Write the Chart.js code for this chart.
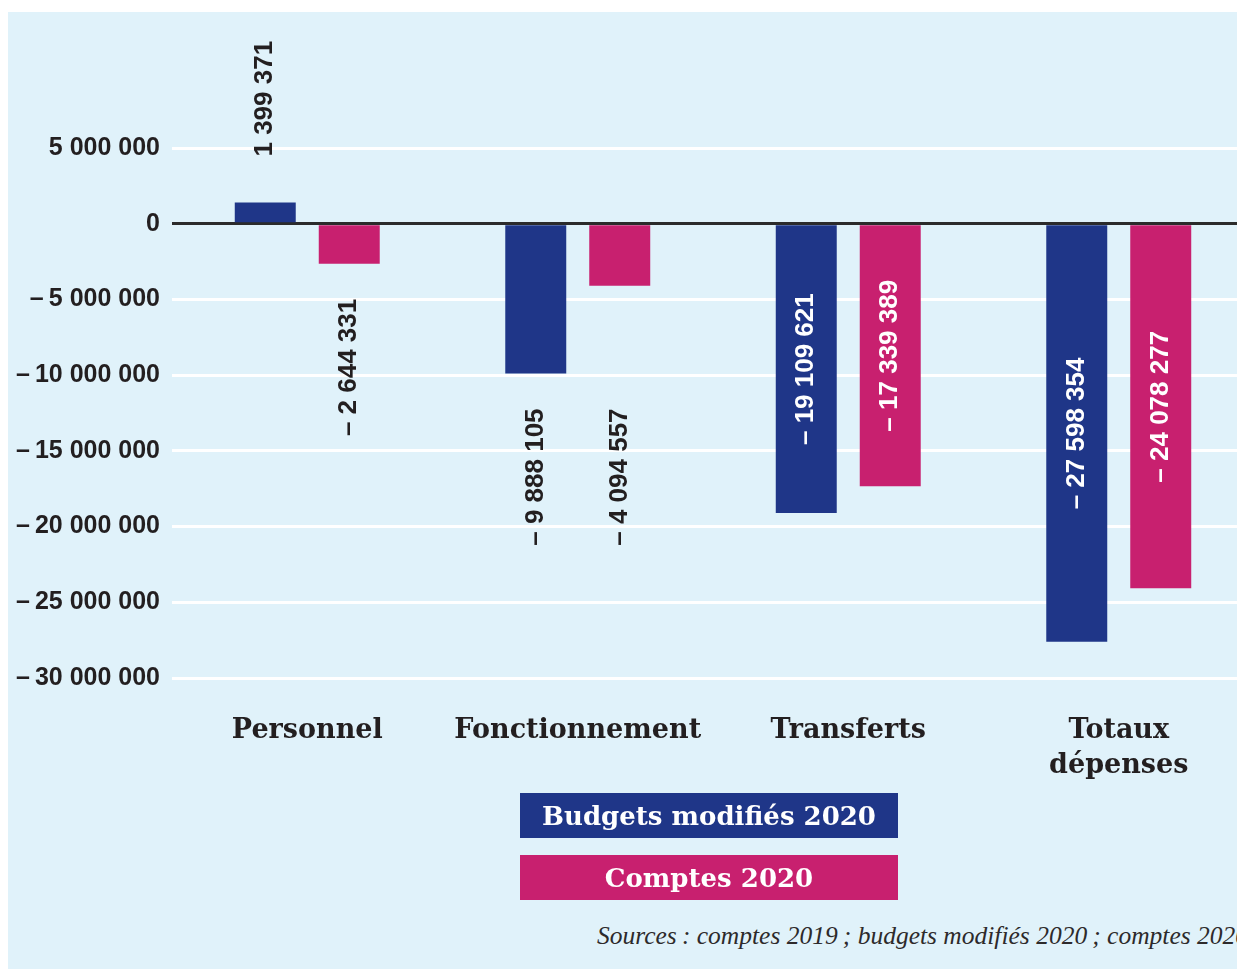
<!DOCTYPE html>
<html>
<head>
<meta charset="utf-8">
<script src="https://cdn.jsdelivr.net/npm/chart.js@4/dist/chart.umd.min.js"></script>
<style>
    html, body { margin: 0; padding: 0; background: #fff; width: 1237px; height: 969px; overflow: hidden; }
    #panel { position: absolute; left: 8px; top: 12px; right: 0; bottom: 0; background: #e0f2fa; overflow: hidden; }
    #chart { position: absolute; left: 0; top: 0; }
    #legend { position: absolute; left: 512px; top: 781px; }
    .key { box-sizing: border-box; width: 378px; height: 45px; line-height: 45px; padding-top: 8px; margin-bottom: 17px;
           color: #fff; text-align: center; font: bold 26px "DejaVu Serif"; }
    #source { position: absolute; left: 589px; top: 911px; white-space: nowrap; color: #2d2a2b;
              font: italic 25.5px "Liberation Serif"; line-height: 25px; }
</style>
</head>
<body>
<div id="panel">
    <canvas id="chart" width="1246" height="830"></canvas>
    <div id="legend"></div>
    <div id="source">Sources&#8201;: comptes 2019&#8201;; budgets modifiés 2020&#8201;; comptes 2020</div>
</div>
<script>
const categories = ['Personnel', 'Fonctionnement', 'Transferts', ['Totaux', 'dépenses']];
const budgetsModifies2020 = [1399371, -9888105, -19109621, -27598354];
const comptes2020 = [-2644331, -4094557, -17339389, -24078277];
const seriesNames = ['Budgets modifiés 2020', 'Comptes 2020'];
const seriesColors = ['#1f3688', '#c8206f'];
const yMin = -30000000, yMax = 5000000, yStep = 5000000;

const ink = '#231f20';

function spaced(n) {
    return Math.abs(n).toString().replace(/\B(?=(\d{3})+(?!\d))/g, ' ');
}

// value written along each bar, inside when it fits, else past the group's end
const valueLabels = {
    id: 'valueLabels',
    afterDatasetsDraw(chart) {
        const ctx = chart.ctx;
        const metas = chart.data.datasets.map((d, i) => chart.getDatasetMeta(i));
        ctx.save();
        ctx.font = 'bold 26px "Liberation Sans"';
        ctx.textBaseline = 'middle';
        chart.data.labels.forEach((lab, j) => {
            const bars = metas.map(m => m.data[j]);
            const lowest = Math.max(...bars.map(b => Math.max(b.y, b.base)));
            const highest = Math.min(...bars.map(b => Math.min(b.y, b.base)));
            bars.forEach((bar, i) => {
                const v = chart.data.datasets[i].data[j];
                const text = (v < 0 ? '\u2013 ' : '') + spaced(v);
                const w = ctx.measureText(text).width;
                const len = Math.abs(bar.base - bar.y);
                let pos;
                ctx.save();
                ctx.translate(bar.x, 0);
                ctx.rotate(-Math.PI / 2);
                if (len > w + 40) {
                    ctx.fillStyle = '#fff';
                    ctx.textAlign = 'center';
                    pos = (bar.y + bar.base) / 2;
                } else if (v < 0) {
                    ctx.fillStyle = ink;
                    ctx.textAlign = 'right';
                    pos = lowest + 35;
                } else {
                    ctx.fillStyle = ink;
                    ctx.textAlign = 'left';
                    pos = highest - 46;
                }
                ctx.fillText(text, -pos, 0);
                ctx.restore();
            });
        });
        ctx.restore();
    }
};

const chart = new Chart(document.getElementById('chart'), {
    type: 'bar',
    data: {
        labels: categories,
        datasets: [{
            label: seriesNames[0],
            data: budgetsModifies2020,
            backgroundColor: seriesColors[0]
        }, {
            label: seriesNames[1],
            data: comptes2020,
            backgroundColor: seriesColors[1]
        }]
    },
    options: {
        responsive: false,
        animation: false,
        layout: { padding: { top: 136, right: 0, left: 0, bottom: 0 } },
        categoryPercentage: 0.621,
        barPercentage: 0.726,
        plugins: {
            legend: { display: false },
            tooltip: { enabled: false }
        },
        scales: {
            x: {
                grid: { display: false },
                border: { display: false },
                ticks: {
                    color: ink,
                    padding: 27,
                    maxRotation: 0,
                    autoSkip: false,
                    font: { family: 'DejaVu Serif', weight: 'bold', size: 27, lineHeight: 1.3 }
                },
                afterFit(scale) { scale.height = 164; }
            },
            y: {
                min: yMin,
                max: yMax,
                grid: {
                    drawTicks: false,
                    lineWidth: 3,
                    color: c => c.tick.value === 0 ? '#2b2b2b' : '#fff'
                },
                border: { display: false },
                ticks: {
                    stepSize: yStep,
                    padding: 12,
                    color: ink,
                    font: { family: 'Liberation Sans', weight: 'bold', size: 25 },
                    callback: v => (v < 0 ? '\u2013\u2009' : '') + spaced(v)
                },
                afterFit(scale) { scale.width = 164; }
            }
        }
    },
    plugins: [valueLabels]
});

const legend = document.getElementById('legend');
chart.data.datasets.forEach(ds => {
    const key = document.createElement('div');
    key.className = 'key';
    key.style.background = ds.backgroundColor;
    key.textContent = ds.label;
    legend.appendChild(key);
});
</script>
</body>
</html>
